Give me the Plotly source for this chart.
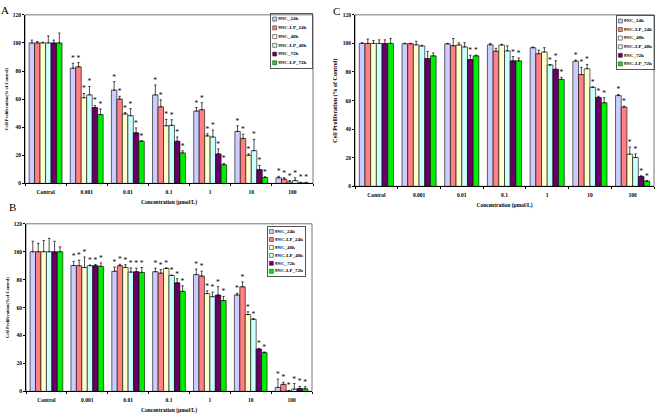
import plotly.graph_objects as go

categories = ["Control", "0.001", "0.01", "0.1", "1", "10", "100"]
series_names = ["9NC_24h", "9NC-LP_24h", "9NC_48h", "9NC-LP_48h", "9NC_72h", "9NC-LP_72h"]
colors = ["#ccccff", "#ff8080", "#ffffcc", "#ccffff", "#660066", "#00ee00"]

# Panel A
a_vals = [
    [100, 82, 66.4, 63, 51.5, 37, 4],
    [100, 83, 60, 54.5, 52.4, 32, 3],
    [100, 61, 49.4, 41, 33.8, 20, 1],
    [100, 63, 48.2, 41.3, 33, 23.3, 2],
    [100, 54, 36, 30, 21, 9.8, 0.3],
    [100, 49, 30, 21.7, 13.3, 4.2, 0.3],
]
a_err = [
    [2, 3.5, 6, 7, 2.5, 4, 1],
    [1, 3, 2, 5, 5, 3, 1],
    [0.5, 3, 1, 4.5, 1.5, 1, 1],
    [5, 6, 5, 4, 5, 8, 2],
    [2, 1.5, 3.5, 3, 3.5, 3, 0.5],
    [7, 4, 0.5, 1.5, 1, 0.5, 0.5],
]
a_star = [[0, 1, 1, 1, 1, 1, 1]] * 6

# Panel B
b_vals = [
    [100, 90.1, 86, 85.7, 83.6, 69, 2.8],
    [100, 90, 90, 84.7, 82.6, 74.9, 5],
    [100, 88.7, 88.7, 88, 70, 55, 0.2],
    [100, 90, 85.4, 83, 67.8, 51.6, 1.6],
    [100, 90, 85.7, 77.7, 69, 30.3, 2],
    [100, 89.5, 85.2, 71.6, 65, 27.7, 1.8],
]
b_err = [
    [7.5, 3, 3, 2.5, 4, 1.2, 6],
    [6, 4, 1, 2.5, 3.5, 3.5, 1.5],
    [8, 7.5, 2, 0.5, 2, 2, 0.5],
    [9.5, 0.5, 3, 0.3, 3.3, 0.5, 4],
    [7.5, 0.8, 2.5, 3, 6, 0.5, 1.5],
    [3.5, 2.5, 3.5, 4, 3, 0.5, 1.5],
]
b_star = [[0, 1, 1, 1, 1, 1, 1]] * 6

# Panel C
c_vals = [
    [100, 99.8, 99.7, 99, 97, 87.6, 63.5],
    [100, 99.8, 98.4, 94.6, 92.8, 78.2, 55.5],
    [100, 99, 98.9, 98.9, 94, 82.3, 22.5],
    [100, 98.2, 97.5, 94.8, 84.9, 69.3, 20.2],
    [100, 89.4, 88.7, 87.8, 81.9, 62.2, 6.9],
    [100, 91.3, 91.3, 87.8, 74.8, 58.5, 3.7],
]
c_err = [
    [0.5, 0.3, 0.3, 1, 0.5, 0.8, 0.8],
    [3, 0.3, 5, 2, 2.5, 5, 0.5],
    [2, 2.5, 1.5, 0.5, 3, 3, 5],
    [2.5, 0.5, 3, 3.5, 0.3, 0.3, 2.5],
    [2.5, 5, 3, 3, 6, 0.8, 0.5],
    [3.5, 2, 0.5, 2, 1.5, 3.5, 0.3],
]
c_star = [
    [0, 0, 0, 0, 0, 1, 1],
    [0, 0, 0, 0, 0, 1, 1],
    [0, 0, 0, 0, 0, 1, 1],
    [0, 0, 0, 0, 1, 1, 1],
    [0, 0, 1, 1, 1, 1, 1],
    [0, 0, 1, 1, 1, 1, 1],
]

y_ticks = [0, 20, 40, 60, 80, 100, 120]
x_title = "Concentration (μmol/L)"
y_titles = ["Cell Proliferation(% of Control)", "Cell Proliferation(%of Control)",
            "Cell Proliferation (% of Control)"]
panel_letters = ["A", "B", "C"]

W, H = 662, 419
FONT = "Liberation Serif"

# pixel boxes of plot areas: (left, right, top, bottom)
boxes = [(25, 313, 12, 183), (26, 312, 224, 394), (355, 654, 12, 186)]
legend_boxes = [(271, 312, 11, 66), (268, 305, 227, 277), (617, 654, 13, 67)]


def dom_x(l, r):
    return [l / W, r / W]


def dom_y(t, b):
    return [1 - b / H, 1 - t / H]


fig = go.Figure()
panels = [(a_vals, a_err, a_star), (b_vals, b_err, b_star), (c_vals, c_err, c_star)]

for p, (vals, errs, stars) in enumerate(panels):
    ax = "" if p == 0 else str(p + 1)
    for i, name in enumerate(series_names):
        fig.add_trace(go.Bar(
            x=categories, y=vals[i], name=name, showlegend=False,
            marker=dict(color=colors[i], line=dict(color="black", width=0.6)),
            error_y=dict(type="data", symmetric=False, array=errs[i],
                         arrayminus=[0] * len(categories),
                         color="black", thickness=0.7, width=1.2),
            offsetgroup=str(i), xaxis="x" + ax, yaxis="y" + ax,
        ))
        tops = [v + e for v, e in zip(vals[i], errs[i])]
        fig.add_trace(go.Bar(
            x=categories, y=tops, showlegend=False, hoverinfo="skip",
            marker=dict(color="rgba(0,0,0,0)", line=dict(width=0)),
            text=["*" if s else "" for s in stars[i]],
            textposition="outside", textangle=0, constraintext="none",
            cliponaxis=False,
            textfont=dict(family=FONT, size=7.5, color="black"),
            offsetgroup=str(i), xaxis="x" + ax, yaxis="y" + ax,
        ))

layout = dict(
    width=W, height=H, margin=dict(l=0, r=0, t=0, b=0),
    paper_bgcolor="white", plot_bgcolor="rgba(0,0,0,0)",
    barmode="group", bargap=0.2, bargroupgap=0,
    showlegend=False, font=dict(family=FONT, color="black"),
)

shapes = []
annotations = []
ytitle_sizes = [4.5, 4.5, 6]
for p in range(3):
    l, r, t, b = boxes[p]
    sx = "" if p == 0 else str(p + 1)
    layout["xaxis" + sx] = dict(
        domain=dom_x(l, r), anchor="y" + sx, type="category",
        showline=True, linecolor="black", linewidth=1,
        ticks="outside", ticklen=2, tickcolor="black", tickson="boundaries",
        ticklabelstandoff=3,
        tickfont=dict(family=FONT, size=5.5, weight="bold"),
        title=dict(text=x_title, font=dict(family=FONT, size=5.5, weight="bold"), standoff=6),
        showgrid=False, zeroline=False, fixedrange=True,
    )
    layout["yaxis" + sx] = dict(
        domain=dom_y(t, b), anchor="x" + sx, range=[0, 120],
        tickvals=y_ticks, showline=True, linecolor="black", linewidth=1,
        ticks="outside", ticklen=2, tickcolor="black",
        tickfont=dict(family=FONT, size=5.5, weight="bold"),
        title=dict(text=y_titles[p], font=dict(family=FONT, size=ytitle_sizes[p], weight="bold"),
                   standoff=4),
        showgrid=False, zeroline=False, fixedrange=True,
    )
    shapes.append(dict(type="rect", xref="x" + sx + " domain", yref="y" + sx + " domain",
                       x0=0, x1=1, y0=0, y1=1, line=dict(color="#777777", width=1),
                       layer="below"))

    # custom compact legend in its own axes
    ll, lr, lt, lb = legend_boxes[p]
    lx = str(p + 4)
    layout["xaxis" + lx] = dict(domain=dom_x(ll, lr), anchor="y" + lx, range=[0, 1],
                                showline=True, mirror=True, linecolor="#555555", linewidth=1,
                                showticklabels=False, ticks="", showgrid=False,
                                zeroline=False, fixedrange=True)
    layout["yaxis" + lx] = dict(domain=dom_y(lt, lb), anchor="x" + lx, range=[5.6, -0.6],
                                showline=True, mirror=True, linecolor="#555555", linewidth=1,
                                showticklabels=False, ticks="", showgrid=False,
                                zeroline=False, fixedrange=True)
    fig.add_trace(go.Scatter(
        x=[0.09] * len(series_names), y=list(range(len(series_names))),
        mode="markers+text", text=series_names, textposition="middle right",
        textfont=dict(family=FONT, size=5, color="black", weight="bold"),
        marker=dict(symbol="square", size=4, color=colors,
                    line=dict(color="#333333", width=0.6)),
        cliponaxis=False, showlegend=False, hoverinfo="skip",
        xaxis="x" + lx, yaxis="y" + lx,
    ))

letter_pos = [(5, 7), (12, 207), (336, 8)]
for p, (px, py) in enumerate(letter_pos):
    annotations.append(dict(text=panel_letters[p], x=px / W, y=1 - py / H,
                            xref="paper", yref="paper", showarrow=False,
                            xanchor="center", yanchor="middle",
                            font=dict(family=FONT, size=11, color="black")))

layout["shapes"] = shapes
layout["annotations"] = annotations
fig.update_layout(**layout)
fig.write_html("out.html", config={"displayModeBar": False},
               post_script="document.body.style.margin='0px';document.body.style.overflow='hidden';")
